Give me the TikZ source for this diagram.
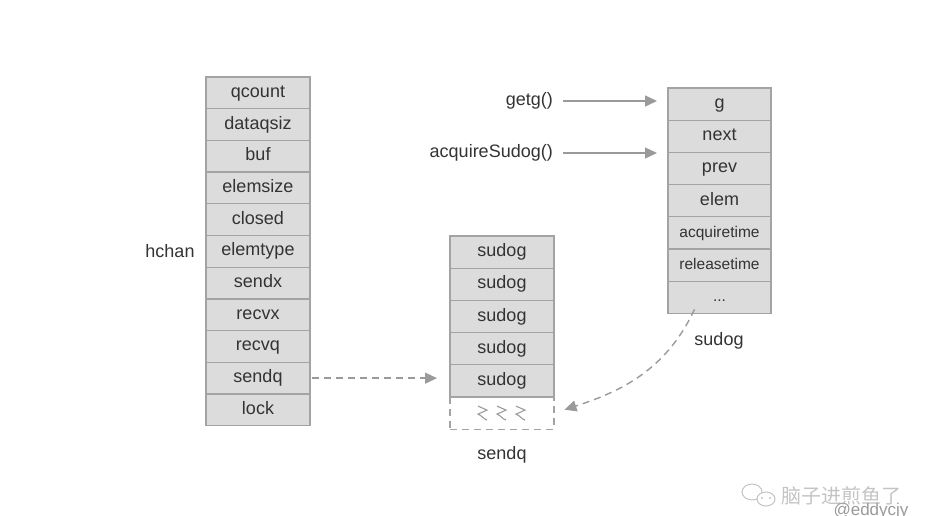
\documentclass[tikz,border=0pt]{standalone}
\usepackage{fontspec}
\setmainfont{Liberation Sans}
\newfontfamily\cjk{Noto Sans CJK SC}
\usetikzlibrary{positioning, arrows.meta}
\definecolor{cellfill}{HTML}{DCDCDC}
\definecolor{cellline}{HTML}{A3A3A3}
\definecolor{txt}{HTML}{333333}
\definecolor{arr}{HTML}{9A9A9A}
\definecolor{wm}{HTML}{C4C4C4}

\begin{document}
\begin{tikzpicture}[x=1pt, y=-1pt, node distance=0pt,
    cell/.style={draw=cellline, fill=cellfill, line width=1.2pt, minimum width=104pt,
        minimum height=32.2pt, inner sep=0pt, outer sep=0pt, text=txt,
        text height=12.5pt, text depth=3.5pt, font=\fontsize{18}{20}\selectfont},
    hrow/.style={cell, minimum height=31.7pt},
    small/.style={font=\fontsize{15.5}{18}\selectfont},
    lbl/.style={text=txt, font=\fontsize{18}{20}\selectfont, inner sep=0pt},
    link/.style={draw=arr, line width=1.4pt, -{Triangle[length=12pt, width=11pt]}},
    dlink/.style={link, dash pattern=on 7pt off 5pt},
]
\useasboundingbox (0,0) rectangle (935,516);

% hchan
\node[hrow] (qcount) at (258,92.85) {qcount};
\node[hrow, below=of qcount] (dataqsiz) {dataqsiz};
\node[hrow, below=of dataqsiz] (buf) {buf};
\node[hrow, below=of buf] (elemsize) {elemsize};
\node[hrow, below=of elemsize] (closed) {closed};
\node[hrow, below=of closed] (elemtype) {elemtype};
\node[hrow, below=of elemtype] (sendx) {sendx};
\node[hrow, below=of sendx] (recvx) {recvx};
\node[hrow, below=of recvx] (recvq) {recvq};
\node[hrow, below=of recvq] (sendqf) {sendq};
\node[hrow, below=of sendqf] (lock) {lock};
\node[lbl] (hchan) at (170,251) {hchan};

% sendq
\node[cell] (sd1) at (502,252.1) {sudog};
\node[cell, below=of sd1] (sd2) {sudog};
\node[cell, below=of sd2] (sd3) {sudog};
\node[cell, below=of sd3] (sd4) {sudog};
\node[cell, below=of sd4] (sd5) {sudog};
\node[cell, fill=none, dash pattern=on 7pt off 5pt, below=of sd5] (more) {};
\foreach \dx in {-19,0,19}
    \draw[arr, line width=1.1pt] ([xshift=\dx pt]more.center) ++(-5,-7) -- ++(9,4) -- ++(-9,4)
        to[out=-20, in=160] ++(9,6);
\node[lbl] (sendq) at (502,455) {sendq};

% sudog
\node[cell, minimum width=103pt] (g) at (719.5,104.05) {g};
\node[cell, minimum width=103pt, below=of g] (next) {next};
\node[cell, minimum width=103pt, below=of next] (prev) {prev};
\node[cell, minimum width=103pt, below=of prev] (elem) {elem};
\node[cell, small, minimum width=103pt, below=of elem] (acqtime) {acquiretime};
\node[cell, small, minimum width=103pt, below=of acqtime] (reltime) {releasetime};
\node[cell, small, minimum width=103pt, below=of reltime] (dots) {...};
\node[lbl] (sudog) at (719,341) {sudog};

\node[lbl, anchor=east] (getg) at (553,101) {getg()};
\node[lbl, anchor=east] (acquire) at (553,153) {acquireSudog()};

\draw[link, shorten <=10pt, shorten >=11pt] (getg.east) -- (getg.east -| g.west);
\draw[link, shorten <=10pt, shorten >=11pt] (acquire.east) -- (acquire.east -| next.west);
\draw[dlink, shorten <=2pt, shorten >=13pt] (sendqf.east) -- (sendqf.east -| sd5.west);
\draw[dlink, shorten >=11pt] ([xshift=-25pt, yshift=4pt]dots.south) to[out=-115, in=18] (more.east);

% watermark
\draw[wm, line width=1pt] (752,492) ellipse (10 and 8);
\draw[wm, line width=1pt, fill=white] (766,499) ellipse (9 and 7);
\foreach \px in {762,770} \fill[wm] (\px,498) circle (1.1);
\node[text=wm, font=\cjk\fontsize{20}{22}\selectfont, anchor=west, inner sep=0pt] (wmtext) at (781,496) {脑子进煎鱼了};
\node[text=arr, font=\fontsize{17}{19}\selectfont, inner sep=0pt] (wmid) at (871,511) {@eddycjy};
\end{tikzpicture}
\end{document}
